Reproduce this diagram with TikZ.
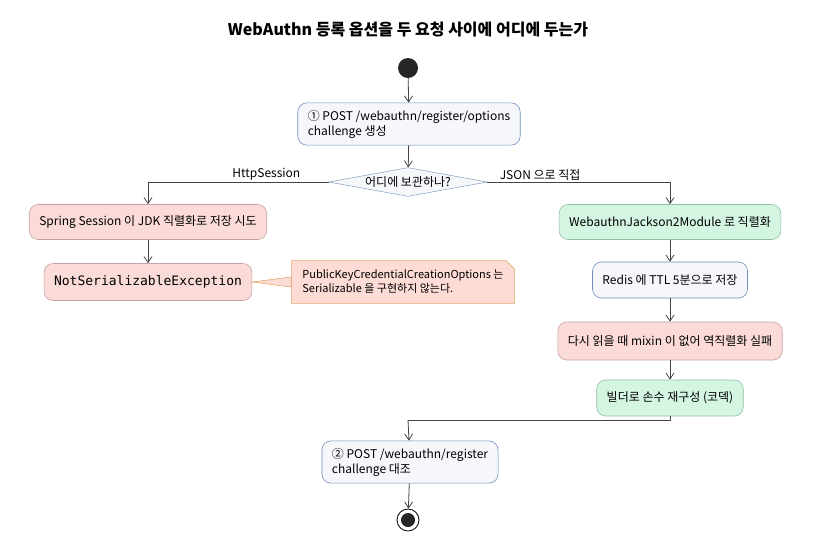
\documentclass[tikz,border=0pt]{standalone}
\usepackage{fontspec}
\setmainfont{Noto Sans CJK KR}
\setmonofont{DejaVu Sans Mono}
\usetikzlibrary{shapes.geometric,shapes.misc,arrows.meta}
\definecolor{plain}{HTML}{F5F7FB}
\definecolor{plainline}{HTML}{6F8DB8}
\definecolor{bad}{HTML}{FADBD8}
\definecolor{badline}{HTML}{C9A0A0}
\definecolor{good}{HTML}{D5F5E3}
\definecolor{goodline}{HTML}{8FBFA3}
\definecolor{notefill}{HTML}{FDDCD6}
\definecolor{noteline}{HTML}{E3A66B}
\definecolor{flow}{HTML}{444444}
\tikzset{
  act/.style={rounded corners=9pt,draw=plainline,fill=plain,line width=0.6pt,
    inner xsep=10pt,inner ysep=7pt,font=\fontsize{12}{15}\selectfont,align=left},
  badact/.style={act,draw=badline,fill=bad},
  goodact/.style={act,draw=goodline,fill=good},
  flowline/.style={draw=flow,line width=0.8pt,-{Straight Barb[length=6pt,width=8pt]}},
  lbl/.style={font=\fontsize{12}{14}\selectfont}
}
\begin{document}
\begin{tikzpicture}[x=1pt,y=-1pt]
\useasboundingbox (0,0) rectangle (813,550);
\node[font=\bfseries\fontsize{16}{18}\selectfont] (title) at (408,30) {WebAuthn 등록 옵션을 두 요청 사이에 어디에 두는가};

\node[circle,fill=black!85,minimum size=20pt,inner sep=0pt] (start) at (408,68) {};
\node[act] (opts) at (409,124) {① POST /webauthn/register/options\\challenge 생성};
\node[diamond,aspect=5.5,draw=plainline,fill=plain,inner sep=1pt,lbl] (where) at (408,182) {어디에 보관하나?};

\node[badact,minimum height=35pt] (spring) at (148,222) {Spring Session 이 JDK 직렬화로 저장 시도};
\node[badact,minimum height=37pt,font=\ttfamily\fontsize{13}{15}\selectfont] (nse) at (148,282) {NotSerializableException};
\node[draw=noteline,fill=notefill,line width=0.6pt,align=left,inner sep=6pt,
  font=\fontsize{11}{14}\selectfont,minimum height=39pt,
  chamfered rectangle,chamfered rectangle corners=north east,chamfered rectangle xsep=5pt] (note) at (403,282)
  {PublicKeyCredentialCreationOptions 는\\Serializable 을 구현하지 않는다.};

\node[goodact,minimum height=35pt] (jackson) at (670,222) {WebauthnJackson2Module 로 직렬화};
\node[act,minimum height=36pt] (redis) at (670,280) {Redis 에 TTL 5분으로 저장};
\node[badact,minimum height=38pt] (mixin) at (670,341) {다시 읽을 때 mixin 이 없어 역직렬화 실패};
\node[goodact,minimum height=36pt] (codec) at (670,398) {빌더로 손수 재구성 (코덱)};
\coordinate (merge) at (408,420);

\node[act] (register) at (410,462) {② POST /webauthn/register\\challenge 대조};
\node[circle,draw=black,line width=0.8pt,minimum size=22pt,inner sep=0pt] (stop) at (408,520) {};
\node[circle,fill=black!85,minimum size=14pt,inner sep=0pt] at (stop) {};

\draw[flowline] (start) -- (opts);
\draw[flowline] (opts) -- (where);
\draw[flowline] (where.west) -| (spring.north) node[lbl,pos=0.08,above left,inner sep=1pt,xshift=2pt] {HttpSession};
\draw[flowline] (where.east) -| (jackson.north) node[lbl,pos=0.03,above right,inner sep=1pt] {JSON 으로 직접};
\draw[flowline] (spring) -- (nse);
\draw[draw=noteline,fill=notefill,line width=0.6pt] (nse.east) -- ([yshift=-5pt]note.west) -- ([yshift=5pt]note.west) -- cycle;
\draw[flowline] (jackson) -- (redis);
\draw[flowline] (redis) -- (mixin);
\draw[flowline] (mixin) -- (codec);
\draw[draw=flow,line width=0.8pt] (codec.south) |- (merge);
\draw[flowline] (merge) -- (register);
\draw[flowline] (register) -- (stop);
\end{tikzpicture}
\end{document}
